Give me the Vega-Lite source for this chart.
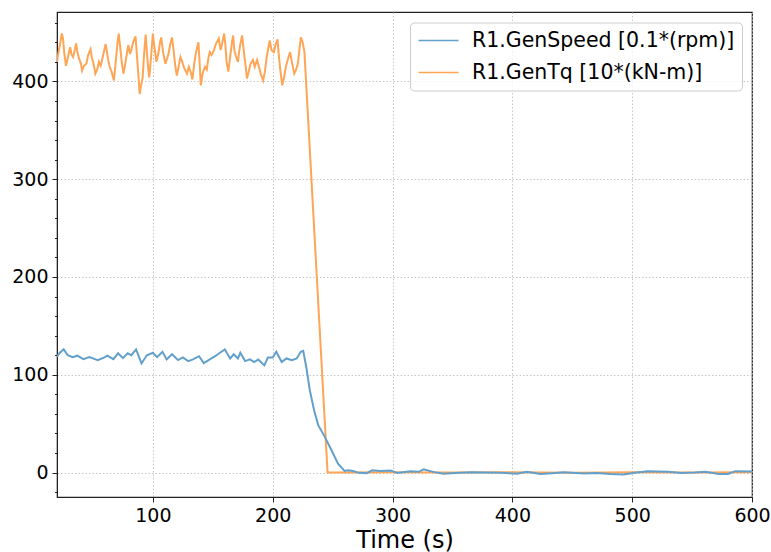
{
  "$schema": "https://vega.github.io/schema/vega-lite/v6.json",
  "width": 695,
  "height": 485,
  "autosize": {"type": "none"},
  "padding": {"left": 57, "top": 12, "right": 19, "bottom": 55},
  "background": "white",
  "config": {
    "font": "DejaVu Sans",
    "view": {"stroke": "#222222", "strokeWidth": 1.2},
    "axis": {
      "labelFont": "DejaVu Sans",
      "labelFontSize": 19,
      "labelColor": "#000000",
      "tickColor": "#222222",
      "domainColor": "#222222",
      "gridColor": "#b8b8b8",
      "gridDash": [1.5, 2],
      "gridWidth": 0.8
    }
  },
  "datasets": {
    "series": [
      {"t": 20, "v": 420, "s": "R1.GenTq [10*(kN-m)]"},
      {"t": 21, "v": 428, "s": "R1.GenTq [10*(kN-m)]"},
      {"t": 22.5, "v": 438, "s": "R1.GenTq [10*(kN-m)]"},
      {"t": 24, "v": 449, "s": "R1.GenTq [10*(kN-m)]"},
      {"t": 25, "v": 444, "s": "R1.GenTq [10*(kN-m)]"},
      {"t": 26, "v": 430, "s": "R1.GenTq [10*(kN-m)]"},
      {"t": 27.5, "v": 416, "s": "R1.GenTq [10*(kN-m)]"},
      {"t": 29, "v": 424, "s": "R1.GenTq [10*(kN-m)]"},
      {"t": 30, "v": 430, "s": "R1.GenTq [10*(kN-m)]"},
      {"t": 31, "v": 435, "s": "R1.GenTq [10*(kN-m)]"},
      {"t": 32, "v": 428, "s": "R1.GenTq [10*(kN-m)]"},
      {"t": 33.5, "v": 425, "s": "R1.GenTq [10*(kN-m)]"},
      {"t": 35, "v": 433, "s": "R1.GenTq [10*(kN-m)]"},
      {"t": 36, "v": 439, "s": "R1.GenTq [10*(kN-m)]"},
      {"t": 37, "v": 430, "s": "R1.GenTq [10*(kN-m)]"},
      {"t": 38.5, "v": 423, "s": "R1.GenTq [10*(kN-m)]"},
      {"t": 40, "v": 418, "s": "R1.GenTq [10*(kN-m)]"},
      {"t": 41, "v": 411, "s": "R1.GenTq [10*(kN-m)]"},
      {"t": 42.5, "v": 416, "s": "R1.GenTq [10*(kN-m)]"},
      {"t": 44.5, "v": 418, "s": "R1.GenTq [10*(kN-m)]"},
      {"t": 46, "v": 427, "s": "R1.GenTq [10*(kN-m)]"},
      {"t": 48, "v": 433, "s": "R1.GenTq [10*(kN-m)]"},
      {"t": 49, "v": 425, "s": "R1.GenTq [10*(kN-m)]"},
      {"t": 50.5, "v": 418, "s": "R1.GenTq [10*(kN-m)]"},
      {"t": 52, "v": 408, "s": "R1.GenTq [10*(kN-m)]"},
      {"t": 53.5, "v": 412, "s": "R1.GenTq [10*(kN-m)]"},
      {"t": 55, "v": 420, "s": "R1.GenTq [10*(kN-m)]"},
      {"t": 56.5, "v": 416, "s": "R1.GenTq [10*(kN-m)]"},
      {"t": 58, "v": 424, "s": "R1.GenTq [10*(kN-m)]"},
      {"t": 60.5, "v": 438, "s": "R1.GenTq [10*(kN-m)]"},
      {"t": 62, "v": 428, "s": "R1.GenTq [10*(kN-m)]"},
      {"t": 63, "v": 420, "s": "R1.GenTq [10*(kN-m)]"},
      {"t": 64, "v": 415, "s": "R1.GenTq [10*(kN-m)]"},
      {"t": 65.5, "v": 410, "s": "R1.GenTq [10*(kN-m)]"},
      {"t": 67.5, "v": 401, "s": "R1.GenTq [10*(kN-m)]"},
      {"t": 69, "v": 420, "s": "R1.GenTq [10*(kN-m)]"},
      {"t": 70.5, "v": 440, "s": "R1.GenTq [10*(kN-m)]"},
      {"t": 71.5, "v": 449, "s": "R1.GenTq [10*(kN-m)]"},
      {"t": 72.5, "v": 438, "s": "R1.GenTq [10*(kN-m)]"},
      {"t": 74, "v": 420, "s": "R1.GenTq [10*(kN-m)]"},
      {"t": 75.5, "v": 408, "s": "R1.GenTq [10*(kN-m)]"},
      {"t": 77, "v": 418, "s": "R1.GenTq [10*(kN-m)]"},
      {"t": 78.5, "v": 430, "s": "R1.GenTq [10*(kN-m)]"},
      {"t": 79.5, "v": 437, "s": "R1.GenTq [10*(kN-m)]"},
      {"t": 81, "v": 428, "s": "R1.GenTq [10*(kN-m)]"},
      {"t": 82, "v": 432, "s": "R1.GenTq [10*(kN-m)]"},
      {"t": 83.5, "v": 440, "s": "R1.GenTq [10*(kN-m)]"},
      {"t": 85.5, "v": 446, "s": "R1.GenTq [10*(kN-m)]"},
      {"t": 86.5, "v": 430, "s": "R1.GenTq [10*(kN-m)]"},
      {"t": 88, "v": 405, "s": "R1.GenTq [10*(kN-m)]"},
      {"t": 89, "v": 387, "s": "R1.GenTq [10*(kN-m)]"},
      {"t": 90, "v": 395, "s": "R1.GenTq [10*(kN-m)]"},
      {"t": 91.5, "v": 404, "s": "R1.GenTq [10*(kN-m)]"},
      {"t": 92.5, "v": 425, "s": "R1.GenTq [10*(kN-m)]"},
      {"t": 94, "v": 448, "s": "R1.GenTq [10*(kN-m)]"},
      {"t": 95, "v": 430, "s": "R1.GenTq [10*(kN-m)]"},
      {"t": 96, "v": 415, "s": "R1.GenTq [10*(kN-m)]"},
      {"t": 97, "v": 404, "s": "R1.GenTq [10*(kN-m)]"},
      {"t": 98.5, "v": 425, "s": "R1.GenTq [10*(kN-m)]"},
      {"t": 100, "v": 449, "s": "R1.GenTq [10*(kN-m)]"},
      {"t": 101, "v": 438, "s": "R1.GenTq [10*(kN-m)]"},
      {"t": 103, "v": 420, "s": "R1.GenTq [10*(kN-m)]"},
      {"t": 104.5, "v": 428, "s": "R1.GenTq [10*(kN-m)]"},
      {"t": 106, "v": 440, "s": "R1.GenTq [10*(kN-m)]"},
      {"t": 107, "v": 445, "s": "R1.GenTq [10*(kN-m)]"},
      {"t": 108.5, "v": 430, "s": "R1.GenTq [10*(kN-m)]"},
      {"t": 110.5, "v": 418, "s": "R1.GenTq [10*(kN-m)]"},
      {"t": 112, "v": 424, "s": "R1.GenTq [10*(kN-m)]"},
      {"t": 113, "v": 428, "s": "R1.GenTq [10*(kN-m)]"},
      {"t": 114.5, "v": 438, "s": "R1.GenTq [10*(kN-m)]"},
      {"t": 116, "v": 445, "s": "R1.GenTq [10*(kN-m)]"},
      {"t": 117, "v": 435, "s": "R1.GenTq [10*(kN-m)]"},
      {"t": 118.5, "v": 418, "s": "R1.GenTq [10*(kN-m)]"},
      {"t": 120, "v": 406, "s": "R1.GenTq [10*(kN-m)]"},
      {"t": 121.5, "v": 415, "s": "R1.GenTq [10*(kN-m)]"},
      {"t": 123, "v": 425, "s": "R1.GenTq [10*(kN-m)]"},
      {"t": 124.5, "v": 420, "s": "R1.GenTq [10*(kN-m)]"},
      {"t": 126, "v": 414, "s": "R1.GenTq [10*(kN-m)]"},
      {"t": 128.5, "v": 408, "s": "R1.GenTq [10*(kN-m)]"},
      {"t": 130, "v": 415, "s": "R1.GenTq [10*(kN-m)]"},
      {"t": 131.5, "v": 410, "s": "R1.GenTq [10*(kN-m)]"},
      {"t": 133, "v": 402, "s": "R1.GenTq [10*(kN-m)]"},
      {"t": 134.5, "v": 418, "s": "R1.GenTq [10*(kN-m)]"},
      {"t": 136, "v": 430, "s": "R1.GenTq [10*(kN-m)]"},
      {"t": 138, "v": 440, "s": "R1.GenTq [10*(kN-m)]"},
      {"t": 139, "v": 420, "s": "R1.GenTq [10*(kN-m)]"},
      {"t": 140, "v": 396, "s": "R1.GenTq [10*(kN-m)]"},
      {"t": 141.5, "v": 408, "s": "R1.GenTq [10*(kN-m)]"},
      {"t": 143.5, "v": 415, "s": "R1.GenTq [10*(kN-m)]"},
      {"t": 145, "v": 412, "s": "R1.GenTq [10*(kN-m)]"},
      {"t": 146.5, "v": 425, "s": "R1.GenTq [10*(kN-m)]"},
      {"t": 147.5, "v": 430, "s": "R1.GenTq [10*(kN-m)]"},
      {"t": 149, "v": 427, "s": "R1.GenTq [10*(kN-m)]"},
      {"t": 151, "v": 432, "s": "R1.GenTq [10*(kN-m)]"},
      {"t": 152.5, "v": 438, "s": "R1.GenTq [10*(kN-m)]"},
      {"t": 155, "v": 444, "s": "R1.GenTq [10*(kN-m)]"},
      {"t": 156.5, "v": 432, "s": "R1.GenTq [10*(kN-m)]"},
      {"t": 158, "v": 440, "s": "R1.GenTq [10*(kN-m)]"},
      {"t": 159.5, "v": 449, "s": "R1.GenTq [10*(kN-m)]"},
      {"t": 160.5, "v": 438, "s": "R1.GenTq [10*(kN-m)]"},
      {"t": 161.5, "v": 420, "s": "R1.GenTq [10*(kN-m)]"},
      {"t": 163, "v": 410, "s": "R1.GenTq [10*(kN-m)]"},
      {"t": 164.5, "v": 425, "s": "R1.GenTq [10*(kN-m)]"},
      {"t": 166, "v": 440, "s": "R1.GenTq [10*(kN-m)]"},
      {"t": 167, "v": 447, "s": "R1.GenTq [10*(kN-m)]"},
      {"t": 168, "v": 432, "s": "R1.GenTq [10*(kN-m)]"},
      {"t": 169.5, "v": 425, "s": "R1.GenTq [10*(kN-m)]"},
      {"t": 171, "v": 420, "s": "R1.GenTq [10*(kN-m)]"},
      {"t": 172.5, "v": 435, "s": "R1.GenTq [10*(kN-m)]"},
      {"t": 174.5, "v": 447, "s": "R1.GenTq [10*(kN-m)]"},
      {"t": 176, "v": 430, "s": "R1.GenTq [10*(kN-m)]"},
      {"t": 177.5, "v": 415, "s": "R1.GenTq [10*(kN-m)]"},
      {"t": 178.5, "v": 403, "s": "R1.GenTq [10*(kN-m)]"},
      {"t": 180, "v": 410, "s": "R1.GenTq [10*(kN-m)]"},
      {"t": 181.5, "v": 418, "s": "R1.GenTq [10*(kN-m)]"},
      {"t": 183.5, "v": 422, "s": "R1.GenTq [10*(kN-m)]"},
      {"t": 185, "v": 415, "s": "R1.GenTq [10*(kN-m)]"},
      {"t": 187, "v": 422, "s": "R1.GenTq [10*(kN-m)]"},
      {"t": 188.5, "v": 415, "s": "R1.GenTq [10*(kN-m)]"},
      {"t": 190, "v": 408, "s": "R1.GenTq [10*(kN-m)]"},
      {"t": 192, "v": 401, "s": "R1.GenTq [10*(kN-m)]"},
      {"t": 193.5, "v": 410, "s": "R1.GenTq [10*(kN-m)]"},
      {"t": 195, "v": 425, "s": "R1.GenTq [10*(kN-m)]"},
      {"t": 196.5, "v": 435, "s": "R1.GenTq [10*(kN-m)]"},
      {"t": 197.5, "v": 442, "s": "R1.GenTq [10*(kN-m)]"},
      {"t": 199, "v": 432, "s": "R1.GenTq [10*(kN-m)]"},
      {"t": 201, "v": 430, "s": "R1.GenTq [10*(kN-m)]"},
      {"t": 202.5, "v": 438, "s": "R1.GenTq [10*(kN-m)]"},
      {"t": 204, "v": 443, "s": "R1.GenTq [10*(kN-m)]"},
      {"t": 205, "v": 428, "s": "R1.GenTq [10*(kN-m)]"},
      {"t": 206.5, "v": 410, "s": "R1.GenTq [10*(kN-m)]"},
      {"t": 208, "v": 396, "s": "R1.GenTq [10*(kN-m)]"},
      {"t": 209.5, "v": 404, "s": "R1.GenTq [10*(kN-m)]"},
      {"t": 211, "v": 415, "s": "R1.GenTq [10*(kN-m)]"},
      {"t": 212.5, "v": 422, "s": "R1.GenTq [10*(kN-m)]"},
      {"t": 214.5, "v": 430, "s": "R1.GenTq [10*(kN-m)]"},
      {"t": 216, "v": 420, "s": "R1.GenTq [10*(kN-m)]"},
      {"t": 218, "v": 408, "s": "R1.GenTq [10*(kN-m)]"},
      {"t": 219.5, "v": 412, "s": "R1.GenTq [10*(kN-m)]"},
      {"t": 221, "v": 418, "s": "R1.GenTq [10*(kN-m)]"},
      {"t": 222.5, "v": 435, "s": "R1.GenTq [10*(kN-m)]"},
      {"t": 223.5, "v": 445, "s": "R1.GenTq [10*(kN-m)]"},
      {"t": 225, "v": 440, "s": "R1.GenTq [10*(kN-m)]"},
      {"t": 226.5, "v": 430, "s": "R1.GenTq [10*(kN-m)]"},
      {"t": 245.8, "v": 0, "s": "R1.GenTq [10*(kN-m)]"},
      {"t": 300, "v": 0.2, "s": "R1.GenTq [10*(kN-m)]"},
      {"t": 350, "v": 0, "s": "R1.GenTq [10*(kN-m)]"},
      {"t": 400, "v": 0.2, "s": "R1.GenTq [10*(kN-m)]"},
      {"t": 450, "v": -0.1, "s": "R1.GenTq [10*(kN-m)]"},
      {"t": 500, "v": 0.2, "s": "R1.GenTq [10*(kN-m)]"},
      {"t": 550, "v": 0, "s": "R1.GenTq [10*(kN-m)]"},
      {"t": 600, "v": 0.4, "s": "R1.GenTq [10*(kN-m)]"},

      {"t": 20, "v": 118.4, "s": "R1.GenSpeed [0.1*(rpm)]"},
      {"t": 22, "v": 122, "s": "R1.GenSpeed [0.1*(rpm)]"},
      {"t": 25.6, "v": 126, "s": "R1.GenSpeed [0.1*(rpm)]"},
      {"t": 29, "v": 120, "s": "R1.GenSpeed [0.1*(rpm)]"},
      {"t": 33, "v": 118, "s": "R1.GenSpeed [0.1*(rpm)]"},
      {"t": 37, "v": 119.5, "s": "R1.GenSpeed [0.1*(rpm)]"},
      {"t": 42, "v": 116, "s": "R1.GenSpeed [0.1*(rpm)]"},
      {"t": 47, "v": 118, "s": "R1.GenSpeed [0.1*(rpm)]"},
      {"t": 54, "v": 115, "s": "R1.GenSpeed [0.1*(rpm)]"},
      {"t": 60, "v": 118, "s": "R1.GenSpeed [0.1*(rpm)]"},
      {"t": 62, "v": 119.5, "s": "R1.GenSpeed [0.1*(rpm)]"},
      {"t": 67, "v": 116, "s": "R1.GenSpeed [0.1*(rpm)]"},
      {"t": 71, "v": 122, "s": "R1.GenSpeed [0.1*(rpm)]"},
      {"t": 75, "v": 117, "s": "R1.GenSpeed [0.1*(rpm)]"},
      {"t": 79, "v": 122, "s": "R1.GenSpeed [0.1*(rpm)]"},
      {"t": 82, "v": 120, "s": "R1.GenSpeed [0.1*(rpm)]"},
      {"t": 86, "v": 126, "s": "R1.GenSpeed [0.1*(rpm)]"},
      {"t": 90.5, "v": 111.6, "s": "R1.GenSpeed [0.1*(rpm)]"},
      {"t": 95, "v": 120, "s": "R1.GenSpeed [0.1*(rpm)]"},
      {"t": 100, "v": 122.5, "s": "R1.GenSpeed [0.1*(rpm)]"},
      {"t": 103.5, "v": 118, "s": "R1.GenSpeed [0.1*(rpm)]"},
      {"t": 108, "v": 123.5, "s": "R1.GenSpeed [0.1*(rpm)]"},
      {"t": 111.5, "v": 115.7, "s": "R1.GenSpeed [0.1*(rpm)]"},
      {"t": 116, "v": 121, "s": "R1.GenSpeed [0.1*(rpm)]"},
      {"t": 121, "v": 115, "s": "R1.GenSpeed [0.1*(rpm)]"},
      {"t": 125, "v": 117.7, "s": "R1.GenSpeed [0.1*(rpm)]"},
      {"t": 129.5, "v": 114, "s": "R1.GenSpeed [0.1*(rpm)]"},
      {"t": 133.5, "v": 115.7, "s": "R1.GenSpeed [0.1*(rpm)]"},
      {"t": 138.5, "v": 119, "s": "R1.GenSpeed [0.1*(rpm)]"},
      {"t": 142.5, "v": 112, "s": "R1.GenSpeed [0.1*(rpm)]"},
      {"t": 147.5, "v": 115.7, "s": "R1.GenSpeed [0.1*(rpm)]"},
      {"t": 152, "v": 119, "s": "R1.GenSpeed [0.1*(rpm)]"},
      {"t": 156, "v": 122.5, "s": "R1.GenSpeed [0.1*(rpm)]"},
      {"t": 160, "v": 126, "s": "R1.GenSpeed [0.1*(rpm)]"},
      {"t": 164.5, "v": 116.7, "s": "R1.GenSpeed [0.1*(rpm)]"},
      {"t": 167.5, "v": 121, "s": "R1.GenSpeed [0.1*(rpm)]"},
      {"t": 171, "v": 116.7, "s": "R1.GenSpeed [0.1*(rpm)]"},
      {"t": 173, "v": 122.5, "s": "R1.GenSpeed [0.1*(rpm)]"},
      {"t": 177, "v": 114, "s": "R1.GenSpeed [0.1*(rpm)]"},
      {"t": 181, "v": 115.7, "s": "R1.GenSpeed [0.1*(rpm)]"},
      {"t": 184.5, "v": 113, "s": "R1.GenSpeed [0.1*(rpm)]"},
      {"t": 188, "v": 115.7, "s": "R1.GenSpeed [0.1*(rpm)]"},
      {"t": 193, "v": 109.6, "s": "R1.GenSpeed [0.1*(rpm)]"},
      {"t": 196, "v": 117.7, "s": "R1.GenSpeed [0.1*(rpm)]"},
      {"t": 200, "v": 117.7, "s": "R1.GenSpeed [0.1*(rpm)]"},
      {"t": 203, "v": 123.5, "s": "R1.GenSpeed [0.1*(rpm)]"},
      {"t": 207.5, "v": 113, "s": "R1.GenSpeed [0.1*(rpm)]"},
      {"t": 211.5, "v": 116.7, "s": "R1.GenSpeed [0.1*(rpm)]"},
      {"t": 216, "v": 115, "s": "R1.GenSpeed [0.1*(rpm)]"},
      {"t": 220, "v": 116.7, "s": "R1.GenSpeed [0.1*(rpm)]"},
      {"t": 223.5, "v": 123.5, "s": "R1.GenSpeed [0.1*(rpm)]"},
      {"t": 225.5, "v": 124.5, "s": "R1.GenSpeed [0.1*(rpm)]"},
      {"t": 228, "v": 108, "s": "R1.GenSpeed [0.1*(rpm)]"},
      {"t": 231, "v": 84, "s": "R1.GenSpeed [0.1*(rpm)]"},
      {"t": 234.5, "v": 64, "s": "R1.GenSpeed [0.1*(rpm)]"},
      {"t": 238, "v": 48.5, "s": "R1.GenSpeed [0.1*(rpm)]"},
      {"t": 243.5, "v": 36.5, "s": "R1.GenSpeed [0.1*(rpm)]"},
      {"t": 249, "v": 23, "s": "R1.GenSpeed [0.1*(rpm)]"},
      {"t": 254.5, "v": 9, "s": "R1.GenSpeed [0.1*(rpm)]"},
      {"t": 260, "v": 1.7, "s": "R1.GenSpeed [0.1*(rpm)]"},
      {"t": 263, "v": 2.4, "s": "R1.GenSpeed [0.1*(rpm)]"},
      {"t": 267, "v": 1.5, "s": "R1.GenSpeed [0.1*(rpm)]"},
      {"t": 272, "v": -0.3, "s": "R1.GenSpeed [0.1*(rpm)]"},
      {"t": 278.5, "v": -0.7, "s": "R1.GenSpeed [0.1*(rpm)]"},
      {"t": 283, "v": 2.4, "s": "R1.GenSpeed [0.1*(rpm)]"},
      {"t": 290, "v": 1.5, "s": "R1.GenSpeed [0.1*(rpm)]"},
      {"t": 298.5, "v": 2, "s": "R1.GenSpeed [0.1*(rpm)]"},
      {"t": 304, "v": -0.5, "s": "R1.GenSpeed [0.1*(rpm)]"},
      {"t": 315, "v": 1.4, "s": "R1.GenSpeed [0.1*(rpm)]"},
      {"t": 322, "v": 0.8, "s": "R1.GenSpeed [0.1*(rpm)]"},
      {"t": 326, "v": 3.4, "s": "R1.GenSpeed [0.1*(rpm)]"},
      {"t": 334, "v": 0.7, "s": "R1.GenSpeed [0.1*(rpm)]"},
      {"t": 342.5, "v": -1.2, "s": "R1.GenSpeed [0.1*(rpm)]"},
      {"t": 356, "v": -0.3, "s": "R1.GenSpeed [0.1*(rpm)]"},
      {"t": 366, "v": 0.4, "s": "R1.GenSpeed [0.1*(rpm)]"},
      {"t": 376, "v": 0, "s": "R1.GenSpeed [0.1*(rpm)]"},
      {"t": 390, "v": -0.3, "s": "R1.GenSpeed [0.1*(rpm)]"},
      {"t": 404, "v": -1.2, "s": "R1.GenSpeed [0.1*(rpm)]"},
      {"t": 412, "v": 0.7, "s": "R1.GenSpeed [0.1*(rpm)]"},
      {"t": 423.5, "v": -1.4, "s": "R1.GenSpeed [0.1*(rpm)]"},
      {"t": 433, "v": -0.8, "s": "R1.GenSpeed [0.1*(rpm)]"},
      {"t": 443, "v": 0.3, "s": "R1.GenSpeed [0.1*(rpm)]"},
      {"t": 460, "v": -1, "s": "R1.GenSpeed [0.1*(rpm)]"},
      {"t": 470, "v": -0.4, "s": "R1.GenSpeed [0.1*(rpm)]"},
      {"t": 482, "v": -1.4, "s": "R1.GenSpeed [0.1*(rpm)]"},
      {"t": 493, "v": -2, "s": "R1.GenSpeed [0.1*(rpm)]"},
      {"t": 502, "v": -0.3, "s": "R1.GenSpeed [0.1*(rpm)]"},
      {"t": 513, "v": 1.4, "s": "R1.GenSpeed [0.1*(rpm)]"},
      {"t": 530, "v": 0.7, "s": "R1.GenSpeed [0.1*(rpm)]"},
      {"t": 541, "v": -0.4, "s": "R1.GenSpeed [0.1*(rpm)]"},
      {"t": 552, "v": 0, "s": "R1.GenSpeed [0.1*(rpm)]"},
      {"t": 561, "v": 0.7, "s": "R1.GenSpeed [0.1*(rpm)]"},
      {"t": 572, "v": -1.4, "s": "R1.GenSpeed [0.1*(rpm)]"},
      {"t": 580, "v": -1.4, "s": "R1.GenSpeed [0.1*(rpm)]"},
      {"t": 586, "v": 1.4, "s": "R1.GenSpeed [0.1*(rpm)]"},
      {"t": 600, "v": 1, "s": "R1.GenSpeed [0.1*(rpm)]"}
    ]
  },
  "data": {"name": "series"},
  "mark": {"type": "line", "strokeWidth": 2, "interpolate": "linear", "clip": true},
  "encoding": {
    "x": {
      "field": "t",
      "type": "quantitative",
      "scale": {"domain": [20, 600], "nice": false, "zero": false},
      "axis": {
        "values": [100, 200, 300, 400, 500, 600],
        "title": "Time (s)",
        "titleFont": "DejaVu Sans",
        "titleFontSize": 24,
        "titleFontWeight": "normal",
        "titleColor": "#000000",
        "titlePadding": 3,
        "tickSize": 5,
        "labelPadding": 4,
        "labelFlush": false,
        "grid": true
      }
    },
    "y": {
      "field": "v",
      "type": "quantitative",
      "scale": {"domain": [-25, 471], "nice": false, "zero": false},
      "axis": {
        "values": [-20, 0, 20, 40, 60, 80, 100, 120, 140, 160, 180, 200, 220, 240, 260, 280, 300, 320, 340, 360, 380, 400, 420, 440, 460],
        "labelExpr": "datum.value % 100 === 0 ? datum.label : ''",
        "tickSize": {"condition": {"test": "datum.value % 100 === 0", "value": 5}, "value": 2.5},
        "gridOpacity": {"condition": {"test": "datum.value % 100 === 0", "value": 1}, "value": 0},
        "title": null,
        "labelPadding": 4,
        "labelFlush": false,
        "grid": true
      }
    },
    "color": {
      "field": "s",
      "type": "nominal",
      "sort": ["R1.GenSpeed [0.1*(rpm)]", "R1.GenTq [10*(kN-m)]"],
      "scale": {"domain": ["R1.GenSpeed [0.1*(rpm)]", "R1.GenTq [10*(kN-m)]"], "range": ["#62a0cb", "#ffa556"]},
      "legend": {
        "title": null,
        "orient": "none",
        "legendX": 353,
        "legendY": 10.5,
        "symbolType": "M-2,0H2",
        "symbolSize": 400,
        "symbolStrokeWidth": 1.6,
        "symbolOffset": 10.5,
        "labelFont": "DejaVu Sans",
        "labelFontSize": 20.5,
        "labelColor": "#000000",
        "labelLimit": 400,
        "labelOffset": 22.5,
        "rowPadding": 10,
        "padding": 7,
        "fillColor": "rgba(255,255,255,0.8)",
        "strokeColor": "#cccccc",
        "cornerRadius": 4
      }
    }
  }
}
